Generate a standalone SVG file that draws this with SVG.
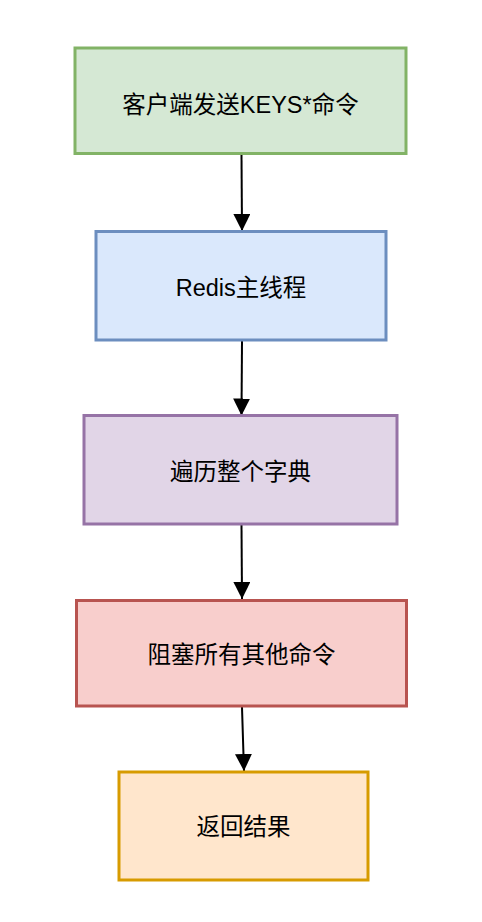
<svg xmlns="http://www.w3.org/2000/svg" width="482" height="922" viewBox="0 0 482 922">
  <style>
    .box { stroke-width: 3; }
    .lbl { font-family: "Liberation Sans", "Noto Sans CJK SC", sans-serif; font-size: 23.5px; fill: #000000; text-anchor: middle; }
    .edge { fill: none; stroke: #000000; stroke-width: 2; }
  </style>
  <defs>
    <marker id="arrow" viewBox="0 0 10 10" refX="10" refY="5" markerWidth="17" markerHeight="17" markerUnits="userSpaceOnUse" orient="auto">
      <path d="M0,0 L10,5 L0,10 z" fill="#000000"/>
    </marker>
  </defs>
  <rect x="0" y="0" width="482" height="922" fill="#ffffff"/>

  <g id="connectors">
    <path class="edge" d="M241.5,155 L242,231" marker-end="url(#arrow)"/>
    <path class="edge" d="M242,341 L241.5,415.5" marker-end="url(#arrow)"/>
    <path class="edge" d="M241.5,525 L242,599" marker-end="url(#arrow)"/>
    <path class="edge" d="M242,707 L244,771" marker-end="url(#arrow)"/>
  </g>

  <g id="node-client">
    <rect class="box" x="75" y="48" width="331" height="105.5" fill="#d5e8d4" stroke="#82b366"/>
    <text class="lbl" x="240.5" y="113">客户端发送KEYS*命令</text>
  </g>
  <g id="node-redis">
    <rect class="box" x="96" y="231.5" width="290" height="108.5" fill="#dae8fc" stroke="#6c8ebf"/>
    <text class="lbl" x="241" y="295.5">Redis主线程</text>
  </g>
  <g id="node-traverse">
    <rect class="box" x="84" y="415.5" width="313" height="108.5" fill="#e1d5e7" stroke="#9673a6"/>
    <text class="lbl" x="240.5" y="479.5">遍历整个字典</text>
  </g>
  <g id="node-block">
    <rect class="box" x="76.5" y="600.5" width="330" height="105.5" fill="#f8cecc" stroke="#b85450"/>
    <text class="lbl" x="241.5" y="663">阻塞所有其他命令</text>
  </g>
  <g id="node-return">
    <rect class="box" x="119" y="772" width="249" height="108" fill="#ffe6cc" stroke="#d79b00"/>
    <text class="lbl" x="243.5" y="834.5">返回结果</text>
  </g>
</svg>
